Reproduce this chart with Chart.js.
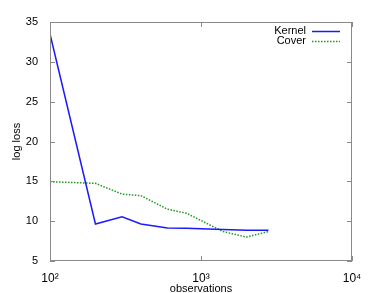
<!DOCTYPE html>
<html>
<head>
<meta charset="utf-8">
<script src="https://cdn.jsdelivr.net/npm/chart.js@4"></script>
<style>
  html, body { margin: 0; padding: 0; background: #fff; }
  #wrap { width: 390px; height: 293px; }
</style>
</head>
<body>
<div id="wrap"><canvas id="c" width="390" height="293"></canvas></div>
<script>
// datos
const observations = [100, 200, 300, 400, 600, 800, 1400, 2000, 2800];
const kernelLoss = [33.5, 9.65, 10.55, 9.65, 9.15, 9.1, 8.95, 8.85, 8.85];
const coverLoss = [14.95, 14.75, 13.4, 13.2, 11.5, 11.0, 8.7, 8.0, 8.7];
const yTicks = [5, 10, 15, 20, 25, 30, 35];
const xTicks = [100, 1000, 10000];
const xTickLabels = ['10²', '10³', '10⁴'];

const FONT = 'Liberation Sans, Arial, sans-serif';

function pts(xs, ys) {
    return xs.map((x, i) => ({ x: x, y: ys[i] }));
}

// marco y marcas hacia dentro, estilo gnuplot
const framePlugin = {
    id: 'frame',
    afterDraw(chart) {
        const { ctx, chartArea: a, scales } = chart;
        ctx.save();
        ctx.strokeStyle = '#8a8a8a';
        ctx.lineWidth = 1;
        ctx.strokeRect(a.left + 0.5, a.top + 0.5, a.right - a.left - 1, a.bottom - a.top - 1);
        ctx.beginPath();
        yTicks.forEach(v => {
            const y = Math.round(scales.y.getPixelForValue(v)) + 0.5;
            ctx.moveTo(a.left, y); ctx.lineTo(a.left + 5, y);
            ctx.moveTo(a.right, y); ctx.lineTo(a.right - 5, y);
        });
        xTicks.forEach(v => {
            const x = Math.round(scales.x.getPixelForValue(v)) + 0.5;
            ctx.moveTo(x, a.bottom); ctx.lineTo(x, a.bottom - 5);
            ctx.moveTo(x, a.top); ctx.lineTo(x, a.top + 5);
        });
        ctx.stroke();

        // leyenda
        ctx.font = '11px ' + FONT;
        ctx.fillStyle = '#000';
        ctx.textAlign = 'right';
        ctx.textBaseline = 'middle';
        chart.data.datasets.forEach((ds, i) => {
            const y = 31 + i * 10;
            ctx.fillText(ds.label, 306, y);
            ctx.beginPath();
            ctx.strokeStyle = ds.borderColor;
            ctx.lineWidth = ds.borderWidth;
            ctx.setLineDash(ds.borderDash || []);
            ctx.moveTo(312, y + 0.5);
            ctx.lineTo(340, y + 0.5);
            ctx.stroke();
        });
        ctx.restore();
    }
};

new Chart(document.getElementById('c'), {
    type: 'scatter',
    data: {
        datasets: [
            {
                label: 'Kernel',
                data: pts(observations, kernelLoss),
                showLine: true,
                borderColor: '#1a1aff',
                borderWidth: 1.5,
                pointRadius: 0,
                tension: 0
            },
            {
                label: 'Cover',
                data: pts(observations, coverLoss),
                showLine: true,
                borderColor: '#1c9a1c',
                borderWidth: 1.5,
                borderDash: [1.5, 1.5],
                pointRadius: 0,
                tension: 0
            }
        ]
    },
    options: {
        responsive: false,
        animation: false,
        devicePixelRatio: 1,
        layout: { padding: { top: 22, right: 38, left: 10, bottom: 0 } },
        plugins: { legend: { display: false }, tooltip: { enabled: false } },
        scales: {
            x: {
                type: 'logarithmic',
                min: 100,
                max: 10000,
                afterBuildTicks: s => { s.ticks = xTicks.map(v => ({ value: v })); },
                afterFit: s => { s.height = 32; },
                grid: { display: false },
                border: { display: false },
                ticks: {
                    color: '#000',
                    font: { family: FONT, size: 12 },
                    padding: 2,
                    maxRotation: 0,
                    callback: (v) => xTickLabels[xTicks.indexOf(v)] || ''
                },
                title: {
                    display: true,
                    text: 'observations',
                    color: '#000',
                    font: { family: FONT, size: 11 },
                    padding: { top: 0, bottom: -3 }
                }
            },
            y: {
                min: 5,
                max: 35,
                afterBuildTicks: s => { s.ticks = yTicks.map(v => ({ value: v })); },
                afterFit: s => { s.width = 40; },
                grid: { display: false },
                border: { display: false },
                ticks: {
                    color: '#000',
                    font: { family: FONT, size: 11 },
                    padding: 4
                },
                title: {
                    display: true,
                    text: 'log loss',
                    color: '#000',
                    font: { family: FONT, size: 11 },
                    padding: { top: 0, bottom: 4 }
                }
            }
        }
    },
    plugins: [framePlugin]
});
</script>
</body>
</html>
